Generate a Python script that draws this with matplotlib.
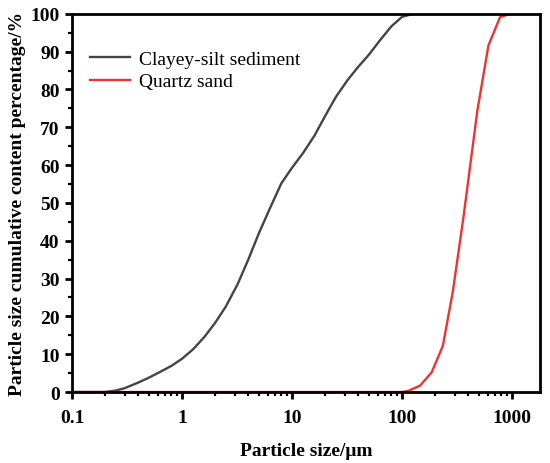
import matplotlib
matplotlib.use("Agg")
from matplotlib import pyplot as plt
from matplotlib.ticker import LogLocator, FixedLocator, MultipleLocator, FuncFormatter

# particle size (um) vs cumulative content (%)
silt_size = [0.1, 0.2, 0.25, 0.3, 0.4, 0.5, 0.63, 0.8, 1.0, 1.26, 1.6, 2.0, 2.5,
             3.2, 4.0, 5.0, 6.3, 8.0, 10, 12.6, 16, 20, 25, 32, 40, 50, 63,
             80, 100, 126, 2000]
silt_pct = [0, 0, 0.4, 1.0, 2.5, 3.8, 5.3, 6.9, 8.8, 11.3, 14.6, 18.3, 22.6,
            28.5, 35.0, 42.0, 48.6, 55.2, 59.3, 63.2, 67.8, 73.0, 78.0, 82.5,
            86.0, 89.2, 93.0, 96.7, 99.2, 100, 100]

sand_size = [0.1, 100, 114, 146, 186, 235, 289, 361, 484, 610, 777, 955, 2000]
sand_pct = [0, 0, 0.3, 1.7, 5.2, 12.2, 26.4, 46.0, 74.4, 91.6, 99.1, 100, 100]

x_ticks = [0.1, 1, 10, 100, 1000]
y_ticks = list(range(0, 101, 10))

plt.rcParams['font.family'] = ['Liberation Serif', 'DejaVu Serif']

fig = plt.figure(figsize=(5.5, 4.64), dpi=100)
ax = fig.add_axes([0.131, 0.153, 0.851, 0.815])

ax.plot(silt_size, silt_pct, color='#444444', lw=1.7, label='Clayey-silt sediment')
ax.plot(sand_size, sand_pct, color='#f03232', lw=1.7, label='Quartz sand')

ax.set_xscale('log')
ax.set_xlim(0.1, 1800)
ax.set_ylim(0, 100)

ax.xaxis.set_major_locator(FixedLocator(x_ticks))
ax.xaxis.set_major_formatter(FuncFormatter(lambda v, p: '%g' % v))
ax.xaxis.set_minor_locator(LogLocator(base=10, subs=range(2, 10), numticks=20))
ax.yaxis.set_major_locator(FixedLocator(y_ticks))
ax.yaxis.set_minor_locator(MultipleLocator(5))

for s in ax.spines.values():
    s.set_linewidth(2.0)
ax.tick_params(which='major', direction='out', length=5, width=2,
               labelsize=14, pad=4)
ax.tick_params(axis='x', which='major', pad=7)
ax.tick_params(which='minor', direction='out', length=3, width=1.6)
for lab in ax.get_xticklabels() + ax.get_yticklabels():
    lab.set_fontweight('bold')

ax.set_xlabel('Particle size/\u03bcm', fontsize=14, fontweight='bold', labelpad=12)
ax.set_ylabel('Particle size cumulative content percentage/%', fontsize=14,
              fontweight='bold', labelpad=3)

ax.legend(loc='upper left', bbox_to_anchor=(0.0, 0.95), frameon=False,
          fontsize=14, handlelength=2.1, handletextpad=0.45, labelspacing=0.25)

fig.savefig('out.png', dpi=100)
